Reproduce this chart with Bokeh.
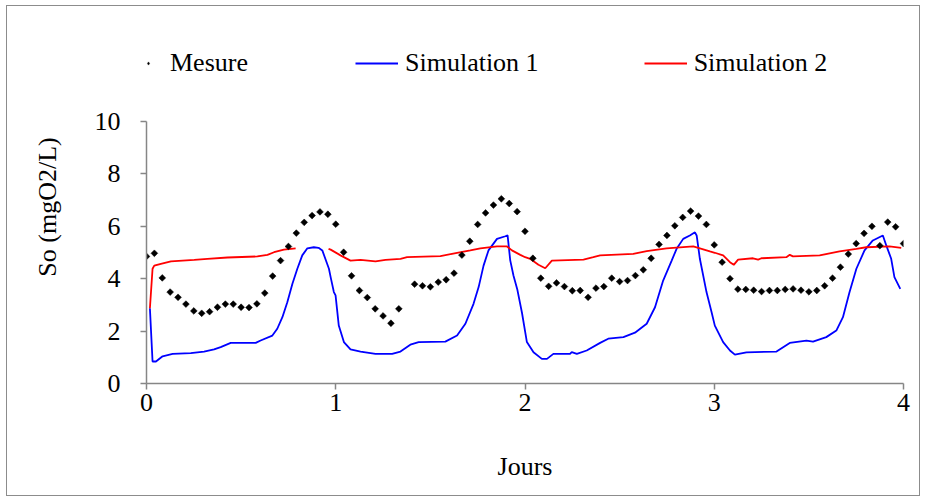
import math
from bokeh.plotting import figure
from bokeh.models import Range1d, Legend, LegendItem, FixedTicker
from bokeh.embed import file_html
from bokeh.resources import INLINE

# --- Mesure (hourly measurements, hour index -> value) ---
mesure_hours = list(range(0, 33)) + list(range(34, 97))
mesure_vals = [
    4.85, 4.97, 4.03, 3.49, 3.29, 3.03, 2.77, 2.68, 2.74, 2.91, 3.03, 3.03,
    2.91, 2.90, 3.04, 3.45, 4.10, 4.69, 5.23, 5.74, 6.15, 6.41, 6.55, 6.46,
    6.08, 5.01, 4.11, 3.55, 3.28, 2.85, 2.58, 2.30, 2.85,
    3.79, 3.73, 3.69, 3.87, 3.96, 4.21, 4.90, 5.43, 6.07, 6.51, 6.81, 7.05,
    6.87, 6.56, 5.81, 4.78, 4.02, 3.71, 3.84, 3.70, 3.54, 3.55, 3.29, 3.64,
    3.70, 4.02, 3.89, 3.93, 4.12, 4.34, 4.78, 5.31, 5.65, 6.02, 6.34, 6.58,
    6.39, 6.07, 5.29, 4.63, 4.00, 3.60, 3.59, 3.56, 3.51, 3.55, 3.55, 3.59,
    3.61, 3.56, 3.50, 3.55, 3.73, 4.02, 4.44, 4.94, 5.34, 5.73, 6.00, 5.26,
    6.16, 5.98, 5.34,
]
mesure_days = [h / 24 for h in mesure_hours]

# --- Simulation 1 (blue) ---
sim1_days = [
    0.018, 0.032, 0.050, 0.085, 0.138, 0.234, 0.304, 0.357, 0.392, 0.445,
    0.577, 0.603, 0.665, 0.691, 0.718, 0.744, 0.771, 0.797, 0.823, 0.850,
    0.884, 0.909, 0.929, 0.964, 0.973, 0.990, 0.999, 1.016, 1.043, 1.078,
    1.131, 1.210, 1.298, 1.342, 1.394, 1.438, 1.579, 1.641, 1.685, 1.728,
    1.755, 1.781, 1.807, 1.852, 1.896, 1.908, 1.922, 1.939, 1.959, 1.984,
    2.010, 2.045, 2.089, 2.116, 2.150, 2.238, 2.247, 2.274, 2.326, 2.397,
    2.440, 2.520, 2.581, 2.643, 2.687, 2.730, 2.775, 2.801, 2.836, 2.871,
    2.898, 2.907, 2.924, 2.959, 2.986, 3.003, 3.047, 3.083, 3.109, 3.170,
    3.329, 3.399, 3.487, 3.522, 3.592, 3.645, 3.680, 3.715, 3.751, 3.794,
    3.838, 3.891, 3.909, 3.935, 3.952, 3.983,
]
sim1_vals = [
    2.87, 0.84, 0.84, 1.04, 1.13, 1.16, 1.22, 1.30, 1.39, 1.55,
    1.55, 1.64, 1.83, 2.09, 2.53, 3.10, 3.81, 4.38, 4.89, 5.16,
    5.20, 5.18, 5.08, 4.38, 4.06, 3.49, 3.36, 2.21, 1.58, 1.30,
    1.22, 1.13, 1.13, 1.22, 1.48, 1.58, 1.60, 1.83, 2.28, 3.04,
    3.68, 4.50, 5.08, 5.52, 5.62, 5.65, 4.70, 4.12, 3.60, 2.70,
    1.58, 1.19, 0.94, 0.94, 1.13, 1.13, 1.20, 1.13, 1.26, 1.55,
    1.71, 1.77, 1.94, 2.28, 2.91, 3.93, 4.69, 5.14, 5.52, 5.65,
    5.77, 5.65, 4.76, 3.49, 2.72, 2.21, 1.58, 1.26, 1.10, 1.19,
    1.22, 1.55, 1.64, 1.60, 1.77, 2.02, 2.53, 3.49, 4.38, 5.08,
    5.46, 5.65, 5.27, 4.76, 4.06, 3.61,
]

# --- Simulation 2 (red); None = gap in the curve ---
sim2_days = [
    0.018, 0.032, 0.041, 0.076, 0.129, 0.252, 0.322, 0.428, 0.586, 0.639,
    0.674, 0.726, 0.788, 0.875, 0.962, 0.973, 1.025, 1.078, 1.131, 1.210,
    1.263, 1.342, 1.377, 1.553, 1.641, 1.711, 1.764, 1.852, 1.905, 1.931,
    1.975, 2.001, 2.027, 2.071, 2.107, 2.142, 2.309, 2.361, 2.397, 2.572,
    2.643, 2.748, 2.889, 2.933, 2.977, 3.003, 3.047, 3.083, 3.103, 3.126,
    3.205, 3.232, 3.249, 3.381, 3.399, 3.416, 3.557, 3.662, 3.751, 3.803,
    3.926, 3.988,
]
sim2_vals = [
    2.87, 4.38, 4.50, 4.57, 4.66, 4.72, 4.76, 4.81, 4.85, 4.91,
    5.01, 5.11, 5.16, None, 5.14, 5.11, 4.89, 4.69, 4.72, 4.66,
    4.72, 4.76, 4.82, 4.86, 4.99, 5.08, 5.16, 5.23, 5.23, 5.08,
    4.91, 4.82, 4.76, 4.53, 4.40, 4.69, 4.73, 4.82, 4.89, 4.95,
    5.05, 5.16, 5.23, 5.14, 5.04, 4.99, 4.89, 4.63, 4.53, 4.73,
    4.78, 4.73, 4.78, 4.82, 4.91, 4.85, 4.89, 5.04, 5.14, 5.20,
    5.23, 5.18,
]

x_ticks = [0, 1, 2, 3, 4]
y_ticks = [0, 2, 4, 6, 8, 10]
series_names = ["Mesure", "Simulation 1", "Simulation 2"]

FONT = "Liberation Serif"
AXIS_GRAY = "#868686"
BLUE = "#0000FF"
RED = "#FF0000"

# Frame (page px): x 146..903, y 30..383 ; y 0 at 383, 10 at 121
PX_PER_UNIT = (383 - 121) / 10
Y_MAX = (383 - 30) / PX_PER_UNIT

p = figure(
    width=914, height=491,
    x_range=Range1d(0, 4), y_range=Range1d(0, Y_MAX),
    output_backend="svg", toolbar_location=None,
    min_border_left=146 - 7, min_border_right=914 - (903 - 7),
    min_border_top=30 - 6, min_border_bottom=491 - (383 - 6),
)
p.styles = {"margin-left": "6px", "margin-top": "5px", "border": "1px solid #8c8c8c"}
p.outline_line_color = None
p.xgrid.visible = False
p.ygrid.visible = False

s1 = p.line(sim1_days, sim1_vals, line_color=BLUE, line_width=1.8)
s2_y = [float("nan") if v is None else v for v in sim2_vals]
s2 = p.line(sim2_days, s2_y, line_color=RED, line_width=1.8)
p.scatter(mesure_days, mesure_vals, marker="square", angle=math.pi / 4,
          size=4.8, fill_color="black", line_color="black", line_width=0.5)
# legend-only marker (its point lies outside the visible range)
lm = p.scatter([-100], [-100], marker="diamond", fill_color="black",
               line_color="black", line_width=0.5)

for ax in (p.xaxis[0], p.yaxis[0]):
    ax.axis_line_color = AXIS_GRAY
    ax.axis_line_width = 1.5
    ax.major_tick_line_color = AXIS_GRAY
    ax.major_tick_line_width = 1.5
    ax.major_tick_in = 0
    ax.major_tick_out = 6
    ax.minor_tick_line_color = None
    ax.major_label_text_font = FONT
    ax.major_label_text_font_size = "26px"
    ax.major_label_text_color = "black"
    ax.axis_label_text_font = FONT
    ax.axis_label_text_font_size = "26px"
    ax.axis_label_text_font_style = "normal"
    ax.axis_label_text_color = "black"

p.xaxis[0].ticker = FixedTicker(ticks=x_ticks)
p.yaxis[0].ticker = FixedTicker(ticks=y_ticks)
p.yaxis[0].bounds = (0, 10)
p.xaxis[0].axis_label = "Jours"
p.yaxis[0].axis_label = "So (mgO2/L)"
p.xaxis[0].major_label_standoff = 4
p.yaxis[0].major_label_standoff = 20
p.xaxis[0].axis_label_standoff = 38
p.yaxis[0].axis_label_standoff = 30

legend_style = dict(
    orientation="horizontal", glyph_height=14, padding=0, margin=0,
    border_line_color=None, background_fill_alpha=0,
    label_text_font=FONT, label_text_font_size="26px", label_text_color="black",
)
LEG_VY = 383 - 78
# "Mesure" item: kept inside the plot frame (frame starts at the y axis)
legend_a = Legend(
    items=[LegendItem(label=series_names[0], renderers=[lm])],
    location=(-2, LEG_VY), glyph_width=8, label_standoff=18, **legend_style,
)
legend_b = Legend(
    items=[
        LegendItem(label=series_names[1], renderers=[s1]),
        LegendItem(label=series_names[2], renderers=[s2]),
    ],
    location=(355 - 146, LEG_VY), glyph_width=43, label_standoff=7, spacing=105,
    **legend_style,
)
p.add_layout(legend_a, "center")
p.add_layout(legend_b, "center")

open("out.html", "w").write(file_html(p, INLINE))
